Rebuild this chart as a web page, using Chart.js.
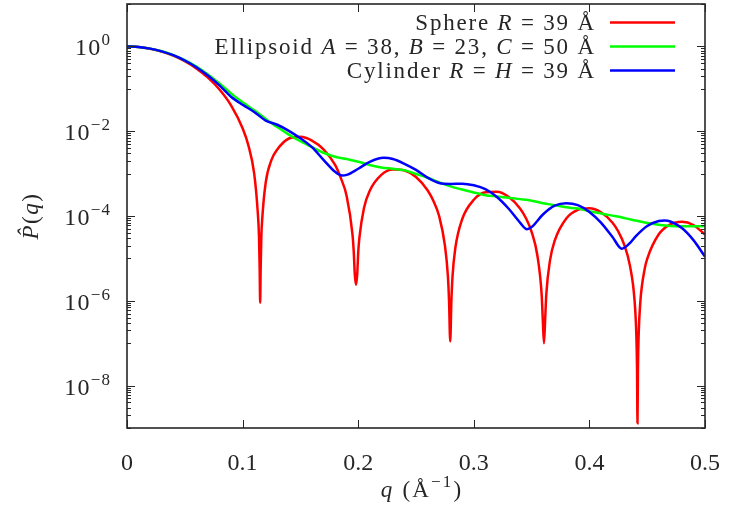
<!DOCTYPE html>
<html>
<head>
<meta charset="utf-8">
<script src="https://cdn.jsdelivr.net/npm/chart.js@4/dist/chart.umd.min.js"></script>
<style>
  html, body { margin: 0; padding: 0; background: #fff; }
</style>
</head>
<body>
<canvas id="formChart" width="733" height="510"></canvas>
<script>
// values (log scale)
const qSphere = [0, 0.01, 0.02, 0.03, 0.04, 0.05, 0.06, 0.07, 0.08, 0.09, 0.10, 0.105, 0.11, 0.113, 0.1142, 0.1148, 0.1152, 0.1156, 0.1162, 0.117,
  0.12, 0.125, 0.13, 0.14, 0.15, 0.16, 0.17, 0.18, 0.185, 0.19, 0.195, 0.1961, 0.1971, 0.1981, 0.1991, 0.2001, 0.201, 0.205,
  0.21, 0.22, 0.23, 0.24, 0.25, 0.26, 0.265, 0.27, 0.275, 0.2776, 0.2786, 0.2796, 0.2806, 0.2816, 0.284,
  0.29, 0.30, 0.31, 0.32, 0.33, 0.34, 0.345, 0.35, 0.355, 0.3587, 0.3597, 0.3607, 0.3617, 0.3627, 0.366,
  0.37, 0.38, 0.39, 0.40, 0.41, 0.42, 0.425, 0.43, 0.435, 0.439, 0.4406, 0.4412, 0.4416, 0.442, 0.4426, 0.444, 0.448,
  0.45, 0.46, 0.47, 0.48, 0.49, 0.50];
const pSphere = [1, 0.970, 0.885, 0.756, 0.604, 0.446, 0.302, 0.183, 0.0963, 0.0408, 0.01175, 0.00464, 0.00101, 1.35e-4, 3.2e-5, 5.1e-6, 9e-7, 5.1e-6, 3.2e-5, 8.7e-5,
  6.16e-4, 2.10e-3, 3.70e-3, 6.73e-3, 7.38e-3, 6.01e-3, 3.72e-3, 1.60e-3, 7.8e-4, 2.98e-4, 3.8e-5, 1.5e-5, 4e-6, 2.4e-6, 4e-6, 1.5e-5, 3.0e-5, 1.54e-4,
  3.96e-4, 9.37e-4, 1.248e-3, 1.184e-3, 8.34e-4, 4.06e-4, 2.28e-4, 9.98e-5, 2.03e-5, 3.8e-6, 9.6e-7, 1.1e-7, 9.6e-7, 3.8e-6, 1.74e-5,
  8.5e-5, 2.41e-4, 3.62e-4, 3.73e-4, 2.84e-4, 1.51e-4, 9.0e-5, 4.22e-5, 1.17e-5, 1.4e-6, 3.5e-7, 1e-7, 3.5e-7, 1.4e-6, 9.2e-6,
  2.62e-5, 8.71e-5, 1.39e-4, 1.52e-4, 1.224e-4, 6.92e-5, 4.31e-5, 2.15e-5, 6.85e-6, 1.07e-6, 1.55e-7, 2.5e-8, 1.3e-9, 2.5e-8, 1.55e-7, 9.0e-7, 5.98e-6,
  9.79e-6, 3.70e-5, 6.37e-5, 7.31e-5, 6.13e-5, 3.64e-5];

const qEllipsoid = [0, 0.01, 0.02, 0.03, 0.04, 0.05, 0.06, 0.07, 0.08, 0.09, 0.10, 0.11, 0.12, 0.13, 0.14, 0.15, 0.16, 0.17, 0.18, 0.19,
  0.20, 0.21, 0.22, 0.23, 0.24, 0.25, 0.26, 0.27, 0.28, 0.29, 0.30, 0.31, 0.32, 0.33, 0.34, 0.35, 0.36, 0.37, 0.38, 0.39,
  0.40, 0.41, 0.42, 0.43, 0.44, 0.45, 0.46, 0.47, 0.48, 0.49, 0.50];
const pEllipsoid = [1, 0.970, 0.887, 0.767, 0.625, 0.475, 0.335, 0.218, 0.133, 0.078, 0.048, 0.031, 0.0195, 0.0125, 0.0083, 0.0058, 0.0042, 0.0031, 0.0025, 0.0022,
  0.0019, 0.0016, 0.0014, 0.0013, 0.0012, 0.00098, 0.00080, 0.00062, 0.00050, 0.00042, 0.00036, 0.00031, 0.00029, 0.00027, 0.00025, 0.00023, 0.00020, 0.00018, 0.00016, 0.00015,
  0.00013, 0.000115, 0.000102, 0.000090, 0.000078, 0.000068, 0.000062, 0.000058, 0.000057, 0.000057, 0.000058];

const qCylinder = [0, 0.01, 0.02, 0.03, 0.04, 0.05, 0.06, 0.07, 0.08, 0.09, 0.10, 0.11, 0.12, 0.13, 0.14, 0.15, 0.16, 0.17, 0.18, 0.186, 0.19,
  0.20, 0.21, 0.222, 0.23, 0.24, 0.25, 0.26, 0.27, 0.28, 0.29, 0.30, 0.31, 0.32, 0.33, 0.34, 0.346, 0.35, 0.36, 0.37, 0.38, 0.39,
  0.40, 0.41, 0.42, 0.428, 0.435, 0.44, 0.45, 0.46, 0.465, 0.47, 0.48, 0.49, 0.50];
const pCylinder = [1, 0.970, 0.886, 0.765, 0.62, 0.465, 0.322, 0.205, 0.12, 0.065, 0.042, 0.0285, 0.0178, 0.0142, 0.0102, 0.0068, 0.0042, 0.0021, 0.0011, 0.0009, 0.00093,
  0.0013, 0.0019, 0.00235, 0.0022, 0.0017, 0.00122, 0.0008, 0.0006, 0.00057, 0.00058, 0.00053, 0.00043, 0.00028, 0.00015, 0.00007, 0.000049, 0.000055, 0.00011, 0.000175, 0.0002, 0.00018,
  0.000125, 0.00007, 0.000032, 0.000017, 0.000023, 0.000033, 0.000058, 0.000076, 0.000078, 0.000074, 0.000052, 0.000027, 0.000011];

const seriesLabels = ['Sphere R = 39 Å', 'Ellipsoid A = 38, B = 23, C = 50 Å', 'Cylinder R = H = 39 Å'];
const seriesColors = ['#ff0000', '#00ff00', '#0000ff'];

const xTickValues = [0, 0.1, 0.2, 0.3, 0.4, 0.5];
const xTickLabels = ['0', '0.1', '0.2', '0.3', '0.4', '0.5'];
const yTickValues = [1e-8, 1e-6, 1e-4, 1e-2, 1];
const yTickExponents = ['\u22128', '\u22126', '\u22124', '\u22122', '0'];

const FONT = '"Liberation Serif", "DejaVu Serif", serif';
const INK = '#262626';
const SIZE = 23;

function toPoints(qs, ps) {
  return qs.map((q, i) => ({ x: q, y: ps[i] }));
}

function segFont(seg, size) {
  return (seg.it ? 'italic ' : '') + size + 'px ' + FONT;
}
// text drawn char by char so a little tracking can be added (LaTeX fonts run wider)
function richWidth(ctx, segs, size, track) {
  let w = 0;
  segs.forEach(s => {
    ctx.font = segFont(s, s.sup ? Math.round(size * 0.72) : size);
    for (const ch of s.t) w += ctx.measureText(ch).width + track;
  });
  return w - track;
}
function drawRich(ctx, segs, x, y, size, align, track) {
  track = track || 0;
  const w = richWidth(ctx, segs, size, track);
  let cx = align === 'right' ? x - w : (align === 'center' ? x - w / 2 : x);
  ctx.textAlign = 'left';
  ctx.textBaseline = 'alphabetic';
  segs.forEach(s => {
    ctx.font = segFont(s, s.sup ? Math.round(size * 0.72) : size);
    const yy = s.sup ? y - size * 0.42 : y;
    // keep combining marks attached to their base letter
    const parts = s.t.match(/.[\u0300-\u036f]*/gu) || [];
    parts.forEach(ch => {
      ctx.fillText(ch, cx, yy);
      cx += ctx.measureText(ch).width + track;
    });
  });
}
// single capital letters are math symbols -> italic
function labelSegs(label) {
  return label.split(/(\b[A-Z]\b)/).filter(t => t.length).map(t => ({ t: t, it: /^[A-Z]$/.test(t) }));
}

const decorPlugin = {
  id: 'decor',
  afterDatasetsDraw(chart) {
    const ctx = chart.ctx;
    const { left, right, top, bottom } = chart.chartArea;
    const xs = chart.scales.x, ys = chart.scales.y;
    ctx.save();
    ctx.strokeStyle = INK;
    ctx.lineWidth = 1;
    const tick = (x1, y1, x2, y2) => { ctx.beginPath(); ctx.moveTo(x1, y1); ctx.lineTo(x2, y2); ctx.stroke(); };
    xTickValues.forEach(v => {
      const px = Math.round(xs.getPixelForValue(v)) + 0.5;
      tick(px, bottom, px, bottom - 8);
      tick(px, top, px, top + 8);
    });
    yTickValues.forEach(v => {
      const py = Math.round(ys.getPixelForValue(v)) + 0.5;
      tick(left, py, left + 8, py);
      tick(right, py, right - 8, py);
    });
    for (let e = -9; e <= 1; e += 2) {
      for (let k = 1; k <= 9; k++) {
        const v = k * Math.pow(10, e);
        if (v < ys.min || v > ys.max) continue;
        const py = Math.round(ys.getPixelForValue(v)) + 0.5;
        tick(left, py, left + 4, py);
        tick(right, py, right - 4, py);
      }
    }
    ctx.lineWidth = 1.6;
    ctx.strokeRect(left, top, right - left, bottom - top);

    ctx.fillStyle = INK;
    // y tick labels 10^n
    yTickValues.forEach((v, i) => {
      const py = ys.getPixelForValue(v);
      drawRich(ctx, [{ t: '10' }, { t: yTickExponents[i], sup: true }], 110, py + 9, 24, 'right', 1.2);
    });
    // axis titles
    drawRich(ctx, [{ t: 'q', it: true }, { t: ' (\u00c5' }, { t: '\u22121', sup: true }, { t: ')' }], 421, 497, SIZE, 'center', 2.2);
    ctx.save();
    ctx.translate(38, 216);
    ctx.rotate(-Math.PI / 2);
    drawRich(ctx, [{ t: 'P\u0302', it: true }, { t: '(' }, { t: 'q', it: true }, { t: ')' }], 0, 0, SIZE, 'center', 1.5);
    ctx.restore();

    // legend, top right inside the frame
    chart.data.datasets.forEach((ds, i) => {
      const rowY = 22 + i * 24;
      drawRich(ctx, labelSegs(ds.label), 594, rowY + 8, SIZE, 'right', 1.8);
      ctx.strokeStyle = ds.borderColor;
      ctx.lineWidth = 2.5;
      tick(610, rowY + 0.5, 675, rowY + 0.5);
    });
    ctx.restore();
  }
};

const ctx = document.getElementById('formChart').getContext('2d');
const chart = new Chart(ctx, {
  type: 'line',
  data: {
    datasets: [
      { label: seriesLabels[0], data: toPoints(qSphere, pSphere), borderColor: seriesColors[0], order: 3 },
      { label: seriesLabels[1], data: toPoints(qEllipsoid, pEllipsoid), borderColor: seriesColors[1], order: 2 },
      { label: seriesLabels[2], data: toPoints(qCylinder, pCylinder), borderColor: seriesColors[2], order: 1 }
    ]
  },
  options: {
    responsive: false,
    animation: false,
    devicePixelRatio: 1,
    layout: { padding: { top: 4, right: 18, left: 0, bottom: 0 } },
    elements: {
      line: { borderWidth: 2.5, fill: false, cubicInterpolationMode: 'monotone' },
      point: { radius: 0, hoverRadius: 0 }
    },
    plugins: { legend: { display: false }, tooltip: { enabled: false } },
    scales: {
      x: {
        type: 'linear',
        min: 0,
        max: 0.5,
        afterBuildTicks: scale => { scale.ticks = xTickValues.map(v => ({ value: v })); },
        afterFit: scale => { scale.height = 82; },
        grid: { display: false },
        border: { display: false },
        ticks: {
          callback: (v, i) => xTickLabels[i],
          font: { family: FONT, size: 24 },
          color: INK,
          padding: 13,
          maxRotation: 0,
          autoSkip: false
        }
      },
      y: {
        type: 'logarithmic',
        min: 1e-9,
        max: 10,
        afterBuildTicks: scale => { scale.ticks = yTickValues.map(v => ({ value: v })); },
        afterFit: scale => { scale.width = 127; },
        grid: { display: false },
        border: { display: false },
        ticks: { display: false }
      }
    }
  },
  plugins: [decorPlugin]
});
</script>
</body>
</html>
